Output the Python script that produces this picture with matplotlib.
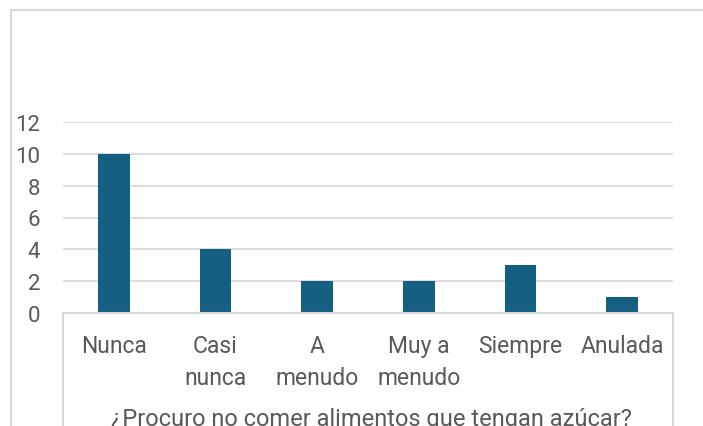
import matplotlib
matplotlib.use('Agg')
import matplotlib.pyplot as plt
from matplotlib.patches import Rectangle

categories = ['Nunca', 'Casi\nnunca', 'A\nmenudo', 'Muy a\nmenudo', 'Siempre', 'Anulada']
counts = [10, 4, 2, 2, 3, 1]
yticks = [0, 2, 4, 6, 8, 10, 12]
title = '¿Procuro no comer alimentos que tengan azúcar?'

BAR_COLOR = '#156082'
GRID_COLOR = '#d9d9d9'
TEXT_COLOR = '#595959'

plt.rcParams['font.family'] = ['Roboto', 'DejaVu Sans']

W, H = 703, 427
fig = plt.figure(figsize=(W / 100, H / 100), dpi=100)

# outer chart border (left + top visible, right/bottom run off the crop)
fig.patches.append(Rectangle((11 / W, -0.1), 1.2, 1.1 - 11 / H,
                             transform=fig.transFigure, fill=False,
                             edgecolor=GRID_COLOR, linewidth=1.5))

ax = fig.add_axes([63 / W, 1 - 314 / H, 610 / W, (314 - 123) / H])
x = range(len(categories))
ax.bar(x, counts, width=0.31, color=BAR_COLOR, zorder=3)
ax.set_xlim(-0.5, len(categories) - 0.5)
ax.set_ylim(0, 12)
ax.set_yticks(yticks)
ax.set_yticklabels([str(t) for t in yticks], fontsize=16, color=TEXT_COLOR)
ax.tick_params(axis='y', length=0, pad=16.5)
ax.set_xticks([])
ax.grid(axis='y', color=GRID_COLOR, linewidth=1.3, zorder=0)
for s in ax.spines.values():
    s.set_visible(False)

# box holding the category labels and the axis title
fig.patches.append(Rectangle((63 / W, -0.1), 610 / W, 0.1 + 1 - 314 / H,
                             transform=fig.transFigure, fill=False,
                             edgecolor=GRID_COLOR, linewidth=1.5))

for i, c in enumerate(categories):
    ax.text(i, -0.112, c, transform=ax.get_xaxis_transform(), ha='center',
            va='top', fontsize=16.5, color=TEXT_COLOR, linespacing=1.5)

fig.text(371 / W, 1 - 420 / H, title, ha='center', va='center',
         fontsize=17, color=TEXT_COLOR)

fig.savefig('out.png', dpi=100)
